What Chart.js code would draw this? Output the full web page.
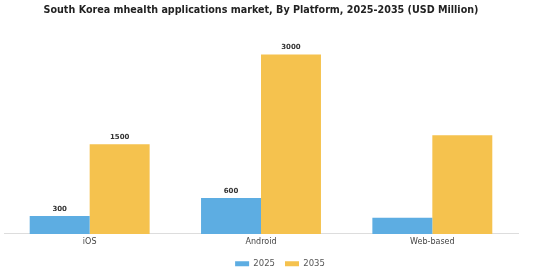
<!DOCTYPE html>
<html>
<head>
<meta charset="utf-8">
<script src="https://cdn.jsdelivr.net/npm/chart.js@4/dist/chart.umd.min.js"></script>
<style>
  html, body { margin: 0; padding: 0; background: #fff; }
  #wrap { width: 560px; height: 280px; }
</style>
</head>
<body>
<div id="wrap"><canvas id="platformChart"></canvas></div>
<script>
const platforms = ['iOS', 'Android', 'Web-based'];
const values2025 = [300, 600, 270];
const values2035 = [1500, 3000, 1650];
// value labels printed above the bars (web-based has none in the source)
const labels2025 = ['300', '600', ''];
const labels2035 = ['1500', '3000', ''];

(function () {
    const canvas = document.getElementById('platformChart');
    if (!canvas) return;

    const FONT = "'DejaVu Sans', sans-serif";

    const valueLabels = {
        id: 'valueLabels',
        afterDatasetsDraw(chart) {
            const ctx = chart.ctx;
            const texts = [labels2025, labels2035];
            ctx.save();
            ctx.font = 'bold 7px ' + FONT;
            ctx.fillStyle = '#333';
            ctx.textAlign = 'center';
            ctx.textBaseline = 'middle';
            chart.data.datasets.forEach((ds, i) => {
                const meta = chart.getDatasetMeta(i);
                meta.data.forEach((bar, j) => {
                    const t = texts[i][j];
                    if (t) ctx.fillText(t, bar.x, bar.y - 7);
                });
            });
            ctx.restore();
        }
    };

    // legend is centred on the whole canvas, not on the plot area
    const shiftLegend = {
        id: 'shiftLegend',
        afterLayout(chart) {
            const lg = chart.legend;
            if (!lg) return;
            lg.left += 19;
            lg.right += 19;
        }
    };

    new Chart(canvas, {
        type: 'bar',
        data: {
            labels: platforms,
            datasets: [{
                label: '2025',
                data: values2025,
                backgroundColor: '#5DADE2',
                borderWidth: 0,
            }, {
                label: '2035',
                data: values2035,
                backgroundColor: '#F5C24E',
                borderWidth: 0,
            }],
        },
        options: {
            responsive: true,
            maintainAspectRatio: false,
            animation: false,
            layout: { padding: { left: 4, right: 42, top: 0, bottom: 2 } },
            datasets: {
                bar: { categoryPercentage: 0.7, barPercentage: 1.0 }
            },
            plugins: {
                title: {
                    display: true,
                    text: 'South Korea mhealth applications market, By Platform, 2025-2035 (USD Million)',
                    color: '#222',
                    font: { family: FONT, size: 9.6, weight: 'bold' },
                    padding: { top: 5, bottom: 20 },
                },
                legend: {
                    position: 'bottom',
                    labels: {
                        boxWidth: 14,
                        boxHeight: 5,
                        padding: 10,
                        color: '#555',
                        font: { family: FONT, size: 8.5 },
                    },
                },
                tooltip: { enabled: false },
            },
            scales: {
                x: {
                    grid: { display: false, drawTicks: false },
                    border: { display: true, color: '#ddd' },
                    ticks: { color: '#444', padding: 3, font: { family: FONT, size: 8 } },
                },
                y: {
                    display: false,
                    min: 0,
                    max: 3300,
                },
            },
        },
        plugins: [valueLabels, shiftLegend],
    });
})();
</script>
</body>
</html>
